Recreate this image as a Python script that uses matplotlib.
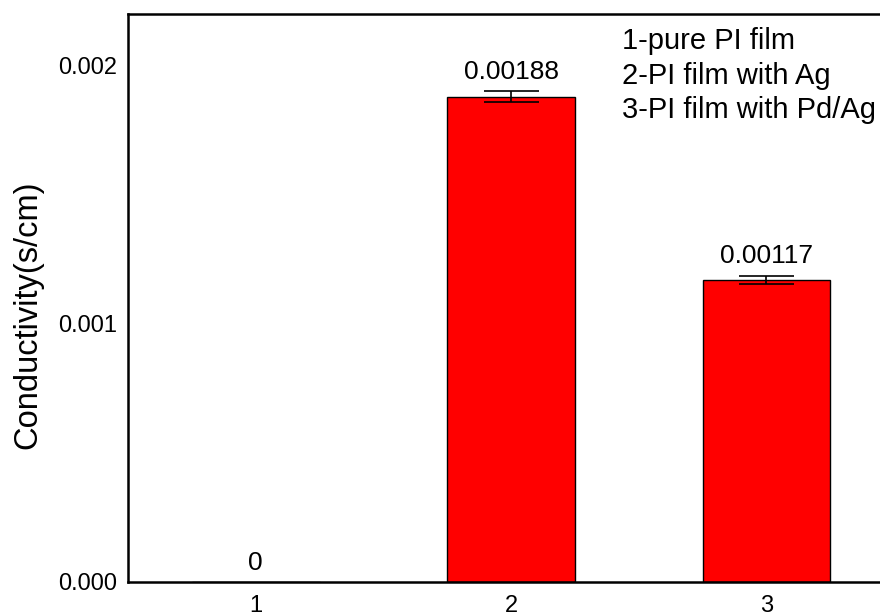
import matplotlib
matplotlib.use("Agg")
import matplotlib.pyplot as plt

plt.rcParams['font.family'] = ['Liberation Sans', 'DejaVu Sans']

samples = [1, 2, 3]
conductivity = [0.0, 0.00188, 0.00117]
errors = [0.0, 0.00002, 0.000016]
value_labels = ["0", "0.00188", "0.00117"]
sample_names = ["1-pure PI film", "2-PI film with Ag", "3-PI film with Pd/Ag"]
y_ticks = [0.000, 0.001, 0.002]
y_tick_labels = ["0.000", "0.001", "0.002"]

W, H = 880, 614
fig = plt.figure(figsize=(W / 100, H / 100), dpi=100)
ax = fig.add_axes([128 / W, 32 / H, (894 - 128) / W, (582 - 14) / H])

ax.bar(samples, conductivity, width=0.5, color='#ff0000', edgecolor='black',
       linewidth=1.0, zorder=2)
ax.errorbar(samples[1:], conductivity[1:], yerr=errors[1:], fmt='none',
            ecolor='black', elinewidth=1.2, capsize=19.8, capthick=1.2, zorder=3)

for x, v, e, lab in zip(samples, conductivity, errors, value_labels):
    ax.annotate(lab, xy=(x, v + e), xytext=(0, 9), textcoords='offset points',
                ha='center', va='baseline', fontsize=19)

ax.set_xlim(0.5, 3.5)
ax.set_ylim(0, 0.0022)
ax.set_xticks(samples)
ax.set_xticklabels([str(s) for s in samples])
ax.set_yticks(y_ticks)
ax.set_yticklabels(y_tick_labels)
ax.tick_params(axis='both', length=0, labelsize=17)
ax.tick_params(axis='y', pad=8)
ax.tick_params(axis='x', pad=9)

for side in ['left', 'top', 'bottom']:
    ax.spines[side].set_linewidth(1.8)
ax.spines['right'].set_visible(False)

ax.set_ylabel("Conductivity(s/cm)", fontsize=23.5)
ax.yaxis.set_label_coords(-0.111, 0.47)

for i, name in enumerate(sample_names):
    fig.text(622 / W, 1 - (41 + 34.5 * i) / H, name, fontsize=21,
             ha='left', va='center')

fig.savefig("out.png", dpi=100)
